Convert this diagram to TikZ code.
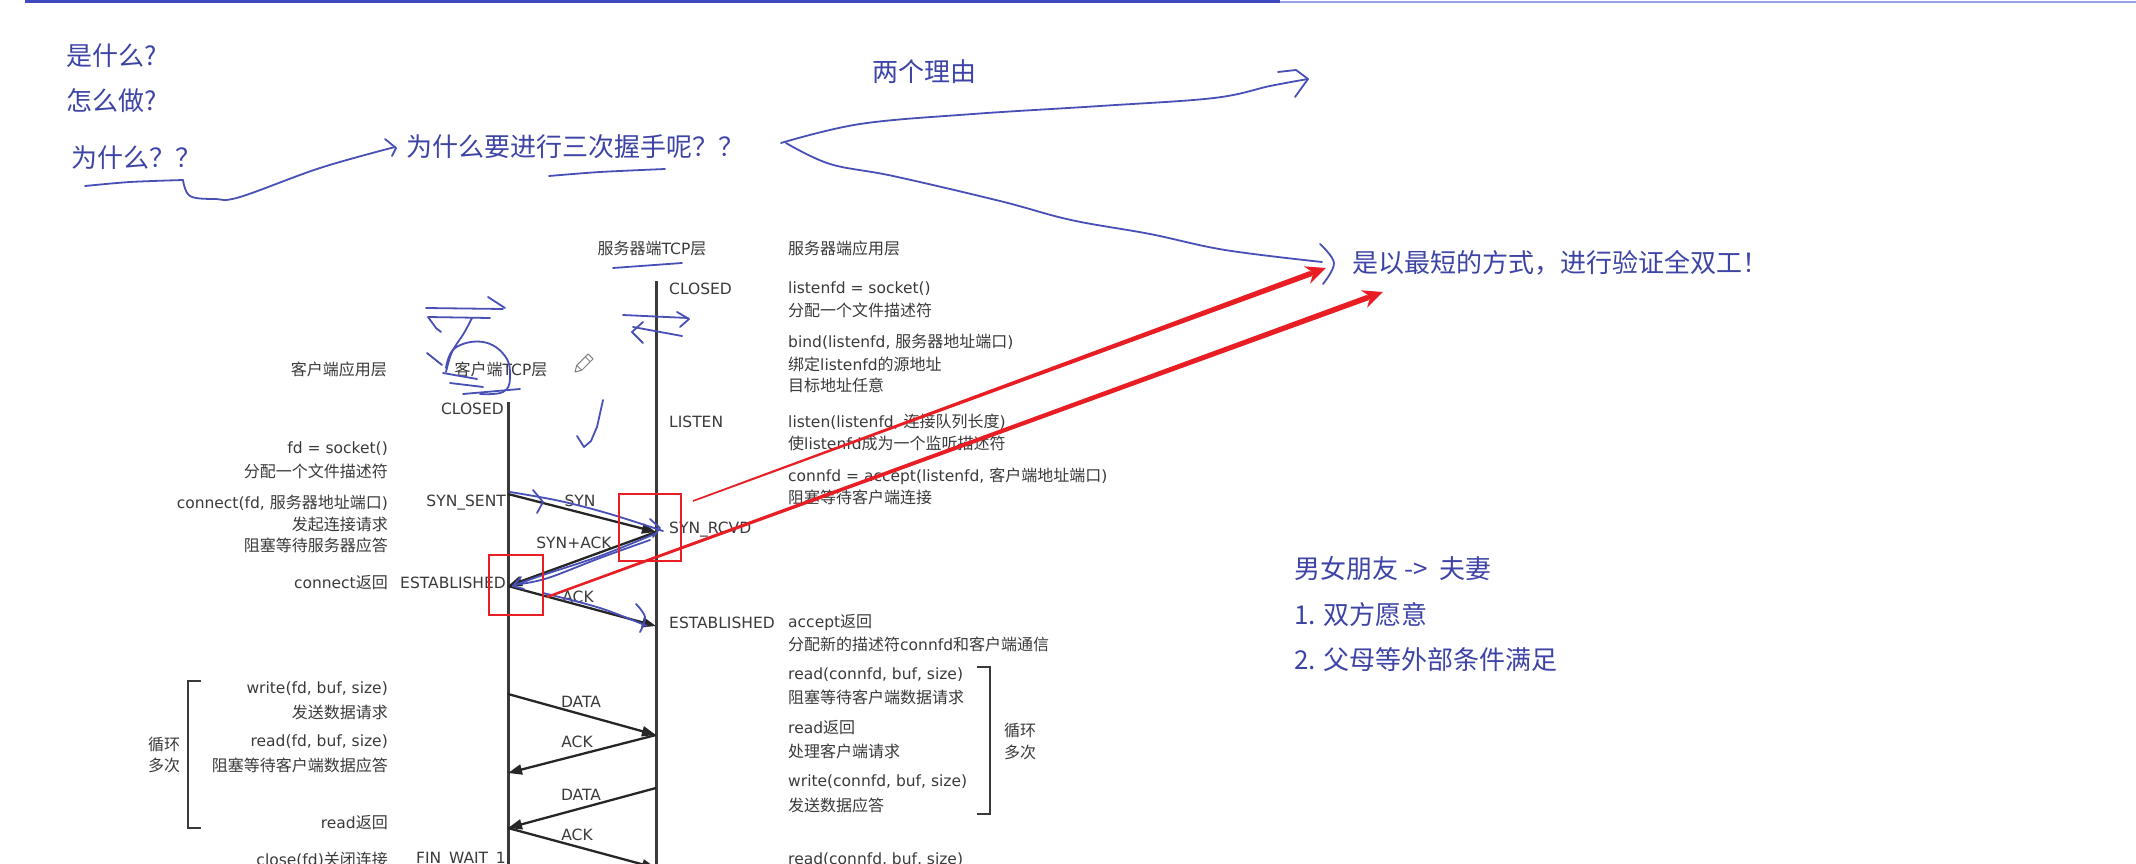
\documentclass[tikz,border=0pt]{standalone}
\usepackage{fontspec}
\setmainfont{Noto Sans CJK SC}
\newfontfamily\latfam{DejaVu Sans}
\newcommand\lseg[1]{{\latfam\fontsize{15.5}{19}\selectfont #1}}
\usetikzlibrary{arrows.meta,calc}
\definecolor{hblue}{RGB}{72,80,182}
\definecolor{htext}{RGB}{62,68,165}
\definecolor{dgray}{RGB}{58,58,58}
\definecolor{redl}{RGB}{232,30,36}
\definecolor{topdark}{RGB}{64,72,190}
\definecolor{toplight}{RGB}{150,160,228}
\begin{document}
\begin{tikzpicture}[x=1pt,y=-1pt,
  dtext/.style={font=\fontsize{16}{19}\selectfont, text=dgray, inner sep=0pt},
  dl/.style={dtext, anchor=west},
  dr/.style={dtext, anchor=east},
  btext/.style={font=\fontsize{26}{30}\selectfont, text=htext, inner sep=0pt, anchor=west},
  life/.style={line width=3pt, draw=dgray},
  msg/.style={line width=2.3pt, draw=black!85, -{Triangle[length=14pt,width=10pt]}},
  hand/.style={draw=hblue, line width=1.8pt, line cap=round, line join=round},
  rbox/.style={draw=redl, line width=2pt, inner sep=0pt},
  brk/.style={draw=dgray, line width=2.5pt},
]
\useasboundingbox (0,0) rectangle (2136,864);
\fill[white] (0,0) rectangle (2136,864);

% top bar
\coordinate (tb0) at (25,2); \coordinate (tb1) at (1280,2); \coordinate (tb2) at (2136,2);
\draw[topdark, line width=3pt] (tb0) -- (tb1);
\draw[toplight, line width=2.5pt] (tb1) -- (tb2);

% blue texts
\node[btext] (q1) at (66,56) {是什么?};
\node[btext] (q2) at (66,101) {怎么做?};
\node[btext] (q3) at (71,158) {为什么？？};
\node[btext] (q4) at (406,147) {为什么要进行三次握手呢？？};
\node[btext] (q5) at (872,72) {两个理由};
\node[btext] (q6) at (1352,263) {是以最短的方式，进行验证全双工！};
\node[btext] (m1) at (1294,569) {男女朋友 -> \ 夫妻};
\node[btext] (m2) at (1294,615) {1. 双方愿意};
\node[btext] (m3) at (1294,660) {2. 父母等外部条件满足};

% handwriting strokes (top)
\draw[hand] plot[smooth, tension=0.5] coordinates {(85,186) (130,182) (183,180)};
\draw[hand] plot[smooth, tension=0.6] coordinates {(183,180) (190,196) (215,199) (240,197) (320,168) (395,147)};
\draw[hand] (385,139) -- (396,148) -- (392,156);
\draw[hand] plot[smooth, tension=0.5] coordinates {(549,176) (600,172) (665,169)};
\draw[hand] plot[smooth, tension=0.6] coordinates {(781,143) (860,124) (973,114) (1100,106) (1214,98) (1270,86) (1308,79)};
\draw[hand] (1278,72) -- (1296,70) -- (1308,79) -- (1295,97);
\draw[hand] plot[smooth, tension=0.6] coordinates {(786,143) (830,164) (893,176) (1000,201) (1071,220) (1150,234) (1225,250) (1322,262)};
\draw[hand] plot[smooth, tension=0.6] coordinates {(1320,244) (1334,263) (1323,284)};

% diagram headers
\node[dtext] (shdr) at (652,248) {服务器端\lseg{TCP}层};
\node[dl] (sapp) at (788,248) {服务器端应用层};
\node[dr] (capp) at (387,369) {客户端应用层};
\node[dtext] (chdr) at (501,369) {客户端\lseg{TCP}层};
\draw[hand] (613,268) -- (682,263);

% lifelines
\coordinate (sTop) at (656,281); \coordinate (sBot) at (656,870);
\coordinate (cTop) at (508,402); \coordinate (cBot) at (508,870);
\draw[life] (sTop) -- (sBot);
\draw[life] (cTop) -- (cBot);

% messages
\coordinate (c1) at (508,494); \coordinate (s1) at (656,532);
\coordinate (c2) at (508,586); \coordinate (s2) at (656,626);
\coordinate (c3) at (508,694); \coordinate (s3) at (656,735);
\coordinate (c4) at (508,773); \coordinate (s4) at (656,788);
\coordinate (c5) at (508,828); \coordinate (s5) at (656,868);
\draw[msg] (c1) -- (s1);
\draw[msg] (s1) -- (c2);
\draw[msg] (c2) -- (s2);
\draw[msg] (c3) -- (s3);
\draw[msg] (s3) -- (c4);
\draw[msg] (s4) -- (c5);
\draw[msg] (c5) -- (s5);
\node[dtext] (lsyn) at (580,501) {\lseg{SYN}};
\node[dtext] (lsynack) at (574,543) {\lseg{SYN+ACK}};
\node[dtext] (lack) at (578,597) {\lseg{ACK}};
\node[dtext] (ldata1) at (581,702) {\lseg{DATA}};
\node[dtext] (lack2) at (577,742) {\lseg{ACK}};
\node[dtext] (ldata2) at (581,795) {\lseg{DATA}};
\node[dtext] (lack3) at (577,835) {\lseg{ACK}};

% server states
\node[dl] (ss1) at (669,289) {\lseg{CLOSED}};
\node[dl] (ss2) at (669,422) {\lseg{LISTEN}};
\node[dl] (ss3) at (669,530) {\lseg{SYN\_RCVD}};
\node[dl] (ss4) at (669,623) {\lseg{ESTABLISHED}};
% client states
\node[dr] (cs1) at (504,409) {\lseg{CLOSED}};
\node[dr] (cs2) at (506,503) {\lseg{SYN\_SENT}};
\node[dr] (cs3) at (506,583) {\lseg{ESTABLISHED}};
\node[dr] (cs4) at (506,860) {\lseg{FIN\_WAIT\_1}};

% server app texts
\node[dl] at (788,289) {\lseg{listenfd = socket()}};
\node[dl] at (788,310) {分配一个文件描述符};
\node[dl] at (788,342) {\lseg{bind(listenfd, }服务器地址端口\lseg{)}};
\node[dl] at (788,364) {绑定\lseg{listenfd}的源地址};
\node[dl] at (788,385) {目标地址任意};
\node[dl] at (788,422) {\lseg{listen(listenfd, }连接队列长度\lseg{)}};
\node[dl] at (788,443) {使\lseg{listenfd}成为一个监听描述符};
\node[dl] at (788,476) {\lseg{connfd = accept(listenfd, }客户端地址端口\lseg{)}};
\node[dl] at (788,497) {阻塞等待客户端连接};
\node[dl] at (788,623) {\lseg{accept}返回};
\node[dl] at (788,644) {分配新的描述符\lseg{connfd}和客户端通信};
\node[dl] at (788,675) {\lseg{read(connfd, buf, size)}};
\node[dl] at (788,697) {阻塞等待客户端数据请求};
\node[dl] at (788,728) {\lseg{read}返回};
\node[dl] at (788,751) {处理客户端请求};
\node[dl] at (788,782) {\lseg{write(connfd, buf, size)}};
\node[dl] at (788,805) {发送数据应答};
\node[dl] at (788,860) {\lseg{read(connfd, buf, size)}};

% client app texts
\node[dr] at (388,449) {\lseg{fd = socket()}};
\node[dr] at (388,471) {分配一个文件描述符};
\node[dr] at (388,503) {\lseg{connect(fd, }服务器地址端口\lseg{)}};
\node[dr] at (388,524) {发起连接请求};
\node[dr] at (388,545) {阻塞等待服务器应答};
\node[dr] at (388,583) {\lseg{connect}返回};
\node[dr] at (388,689) {\lseg{write(fd, buf, size)}};
\node[dr] at (388,712) {发送数据请求};
\node[dr] at (388,742) {\lseg{read(fd, buf, size)}};
\node[dr] at (388,765) {阻塞等待客户端数据应答};
\node[dr] at (388,823) {\lseg{read}返回};
\node[dr] at (388,860) {\lseg{close(fd)}关闭连接};

% brackets
\draw[brk] (201,681) -- (188,681) -- (188,828) -- (201,828);
\node[dtext] at (164,744) {循环};
\node[dtext] at (164,765) {多次};
\draw[brk] (977,667) -- (990,667) -- (990,814) -- (977,814);
\node[dtext] at (1020,730) {循环};
\node[dtext] at (1020,752) {多次};

% pencil icon
\begin{scope}[shift={(575,372)}, rotate=45]
  \draw[gray, line width=1pt, line join=round] (0,0) -- (6,-3.5) -- (22,-3.5) -- (22,3.5) -- (6,3.5) -- cycle;
  \draw[gray, line width=1pt] (6,-3.5) -- (6,3.5) (18,-3.5) -- (18,3.5);
\end{scope}

% handwriting on diagram
\draw[hand] (426,308) -- (503,309);
\draw[hand] (488,297) -- (505,308);
\draw[hand] (490,318) -- (428,317) -- (436,328) -- (441,332);
\draw[hand] plot[smooth, tension=0.6] coordinates {(472,318) (464,333) (452,352) (446,372)};
\draw[hand] plot[smooth, tension=0.7] coordinates {(446,368) (455,348) (483,342) (505,356) (510,378) (503,392) (480,394)};
\draw[hand] (427,353) -- (442,365);
\draw[hand] (443,373) -- (477,379);
\draw[hand] (450,383) -- (483,387);
\draw[hand] (463,394) -- (520,389);
\draw[hand] (623,315) -- (688,318);
\draw[hand] (677,312) -- (689,319) -- (680,327);
\draw[hand] (633,327) -- (682,336);
\draw[hand] (643,322) -- (632,332) -- (643,343);
\draw[hand] (577,436) -- (584,447) -- (591,441) -- (597,427) -- (603,400);
% SYN
\draw[hand] plot[smooth, tension=0.6] coordinates {(510,492) (560,501) (610,514) (663,531)};
\draw[hand] (533,490) -- (543,502) -- (537,513);
\draw[hand] (650,519) -- (660,528) -- (653,537);
% SYN+ACK
\draw[hand] plot[smooth, tension=0.6] coordinates {(657,533) (600,556) (540,576) (513,586)};
\draw[hand] plot[smooth, tension=0.6] coordinates {(650,540) (600,558) (548,578) (520,584)};
\draw[hand] (521,577) -- (513,586) -- (524,589);
% ACK
\draw[hand] plot[smooth, tension=0.6] coordinates {(543,593) (600,608) (647,626)};
\draw[hand] plot[smooth, tension=0.6] coordinates {(636,604) (645,617) (640,632)};

% red boxes
\node[rbox, minimum width=62pt, minimum height=67pt] (box1) at (650,527.5) {};
\node[rbox, minimum width=54pt, minimum height=60pt] (box2) at (516,585) {};

% red arrows (tapered)
\coordinate (r1s) at (693,501); \coordinate (r1e) at (1326,268);
\coordinate (r2s) at (547,597); \coordinate (r2e) at (1383,292);
\coordinate (r1m) at ($(r1e)!16pt!(r1s)$);
\coordinate (r2m) at ($(r2e)!16pt!(r2s)$);
\fill[redl] ($(r1s)!0.8pt!90:(r1e)$) -- ($(r1m)!2.8pt!-90:(r1s)$) -- ($(r1m)!2.8pt!90:(r1s)$) -- ($(r1s)!0.8pt!-90:(r1e)$) -- cycle;
\fill[redl] ($(r2s)!1.2pt!90:(r2e)$) -- ($(r2m)!2.8pt!-90:(r2s)$) -- ($(r2m)!2.8pt!90:(r2s)$) -- ($(r2s)!1.2pt!-90:(r2e)$) -- cycle;
\draw[redl, line width=4pt, -{Stealth[length=20pt,width=18pt]}] ($(r1e)!30pt!(r1s)$) -- (r1e);
\draw[redl, line width=4pt, -{Stealth[length=20pt,width=18pt]}] ($(r2e)!30pt!(r2s)$) -- (r2e);
\end{tikzpicture}
\end{document}
